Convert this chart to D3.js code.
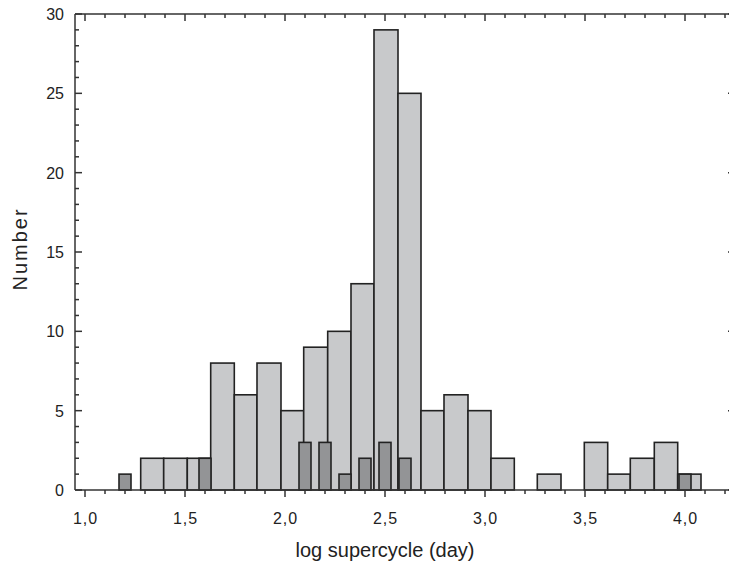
<!DOCTYPE html>
<html>
<head>
<meta charset="utf-8">
<script src="https://cdn.jsdelivr.net/npm/d3@7"></script>
<style>
  body { margin: 0; background: #fff; }
  text { font-family: "Liberation Sans", Arial, sans-serif; fill: #222; }
</style>
</head>
<body>
<script>
// light bins: edges (log day) and counts
var binEdges = [1.2785, 1.3935, 1.5115, 1.6285, 1.7465, 1.86, 1.98, 2.0935, 2.2135, 2.33,
                2.445, 2.565, 2.68, 2.795, 2.915, 3.03, 3.1465, 3.2615, 3.38, 3.4965,
                3.6135, 3.7265, 3.8465, 3.9635, 4.08];
var binCounts = [2, 2, 2, 8, 6, 8, 5, 9, 10, 13, 29, 25, 5, 6, 5, 2, 0, 1, 0, 3, 1, 2, 3, 1];

// dark (narrow) bars: centre and count
var darkCenters = [1.2, 1.6, 2.1, 2.2, 2.3, 2.4, 2.5, 2.6, 4.0];
var darkCounts  = [1, 2, 3, 3, 1, 2, 3, 2, 1];
var darkWidth = 0.06;

var xTickLabels = ["1,0", "1,5", "2,0", "2,5", "3,0", "3,5", "4,0"];
var xTickValues = [1.0, 1.5, 2.0, 2.5, 3.0, 3.5, 4.0];
var yTickValues = [0, 5, 10, 15, 20, 25, 30];

var W = 729, H = 564;
var margin = {left: 75, top: 14, right: 735, bottom: 490};

var xScale = d3.scaleLinear().domain([0.95, 4.25]).range([margin.left, margin.right]);
var yScale = d3.scaleLinear().domain([0, 30]).range([margin.bottom, margin.top]);

var svg = d3.select("body").append("svg")
    .attr("width", W)
    .attr("height", H);

var lightBins = binCounts.map(function (c, i) {
    return {x0: binEdges[i], x1: binEdges[i + 1], n: c};
}).filter(function (d) { return d.n > 0; });

svg.append("g").selectAll("rect").data(lightBins)
    .enter().append("rect")
    .attr("x", d => xScale(d.x0))
    .attr("y", d => yScale(d.n))
    .attr("width", d => xScale(d.x1) - xScale(d.x0))
    .attr("height", d => yScale(0) - yScale(d.n))
    .attr("fill", "#c8c9cb")
    .attr("stroke", "#222")
    .attr("stroke-width", 1.6);

var darkBins = darkCenters.map(function (c, i) {
    return {x: c, n: darkCounts[i]};
});

svg.append("g").selectAll("rect").data(darkBins)
    .enter().append("rect")
    .attr("x", d => xScale(d.x - darkWidth / 2))
    .attr("y", d => yScale(d.n))
    .attr("width", d => xScale(d.x + darkWidth / 2) - xScale(d.x - darkWidth / 2))
    .attr("height", d => yScale(0) - yScale(d.n))
    .attr("fill", "#939496")
    .attr("stroke", "#222")
    .attr("stroke-width", 1.6);

// axes
var xMinor = d3.range(10, 43).map(v => v / 10);
var yMinor = d3.range(0, 31);
var axisCol = "#333";
var L = margin.left, T = margin.top, R = margin.right, B = margin.bottom;

function isMajorX(v) { return Math.abs(v * 2 - Math.round(v * 2)) < 1e-6; }

var ax = svg.append("g").attr("stroke", axisCol).attr("stroke-width", 1.5);

// frame lines
ax.append("line").attr("x1", L).attr("x2", R).attr("y1", B).attr("y2", B);
ax.append("line").attr("x1", L).attr("x2", R).attr("y1", T).attr("y2", T);
ax.append("line").attr("x1", L).attr("x2", L).attr("y1", T).attr("y2", B);
ax.append("line").attr("x1", R).attr("x2", R).attr("y1", T).attr("y2", B);

// bottom ticks (outward) and top ticks (inward)
ax.selectAll(".xb").data(xMinor).enter().append("line")
    .attr("x1", d => xScale(d)).attr("x2", d => xScale(d))
    .attr("y1", B).attr("y2", d => B + (isMajorX(d) ? 7 : 4));
ax.selectAll(".xt").data(xMinor).enter().append("line")
    .attr("x1", d => xScale(d)).attr("x2", d => xScale(d))
    .attr("y1", T).attr("y2", d => T + (isMajorX(d) ? 7 : 4));

// left & right ticks (inward)
ax.selectAll(".yl").data(yMinor).enter().append("line")
    .attr("y1", d => yScale(d)).attr("y2", d => yScale(d))
    .attr("x1", L).attr("x2", d => L + (d % 5 === 0 ? 7 : 4));
ax.selectAll(".yr").data(yMinor).enter().append("line")
    .attr("y1", d => yScale(d)).attr("y2", d => yScale(d))
    .attr("x1", R).attr("x2", d => R - (d % 5 === 0 ? 7 : 4));

// tick labels
svg.append("g").selectAll("text").data(xTickValues)
    .enter().append("text")
    .attr("x", d => xScale(d) + 0.5)
    .attr("y", 524)
    .attr("text-anchor", "middle")
    .style("font-size", "16px")
    .style("letter-spacing", "1px")
    .text((d, i) => xTickLabels[i]);

svg.append("g").selectAll("text").data(yTickValues)
    .enter().append("text")
    .attr("x", 64)
    .attr("y", d => yScale(d) + 6)
    .attr("text-anchor", "end")
    .style("font-size", "16px")
    .text(d => d);

// axis titles
svg.append("text")
    .attr("x", 385)
    .attr("y", 557)
    .attr("text-anchor", "middle")
    .style("font-size", "20px")
    .text("log supercycle (day)");

svg.append("text")
    .attr("transform", "translate(27,249) rotate(-90)")
    .attr("text-anchor", "middle")
    .style("font-size", "20px")
    .style("letter-spacing", "2px")
    .text("Number");
</script>
</body>
</html>
